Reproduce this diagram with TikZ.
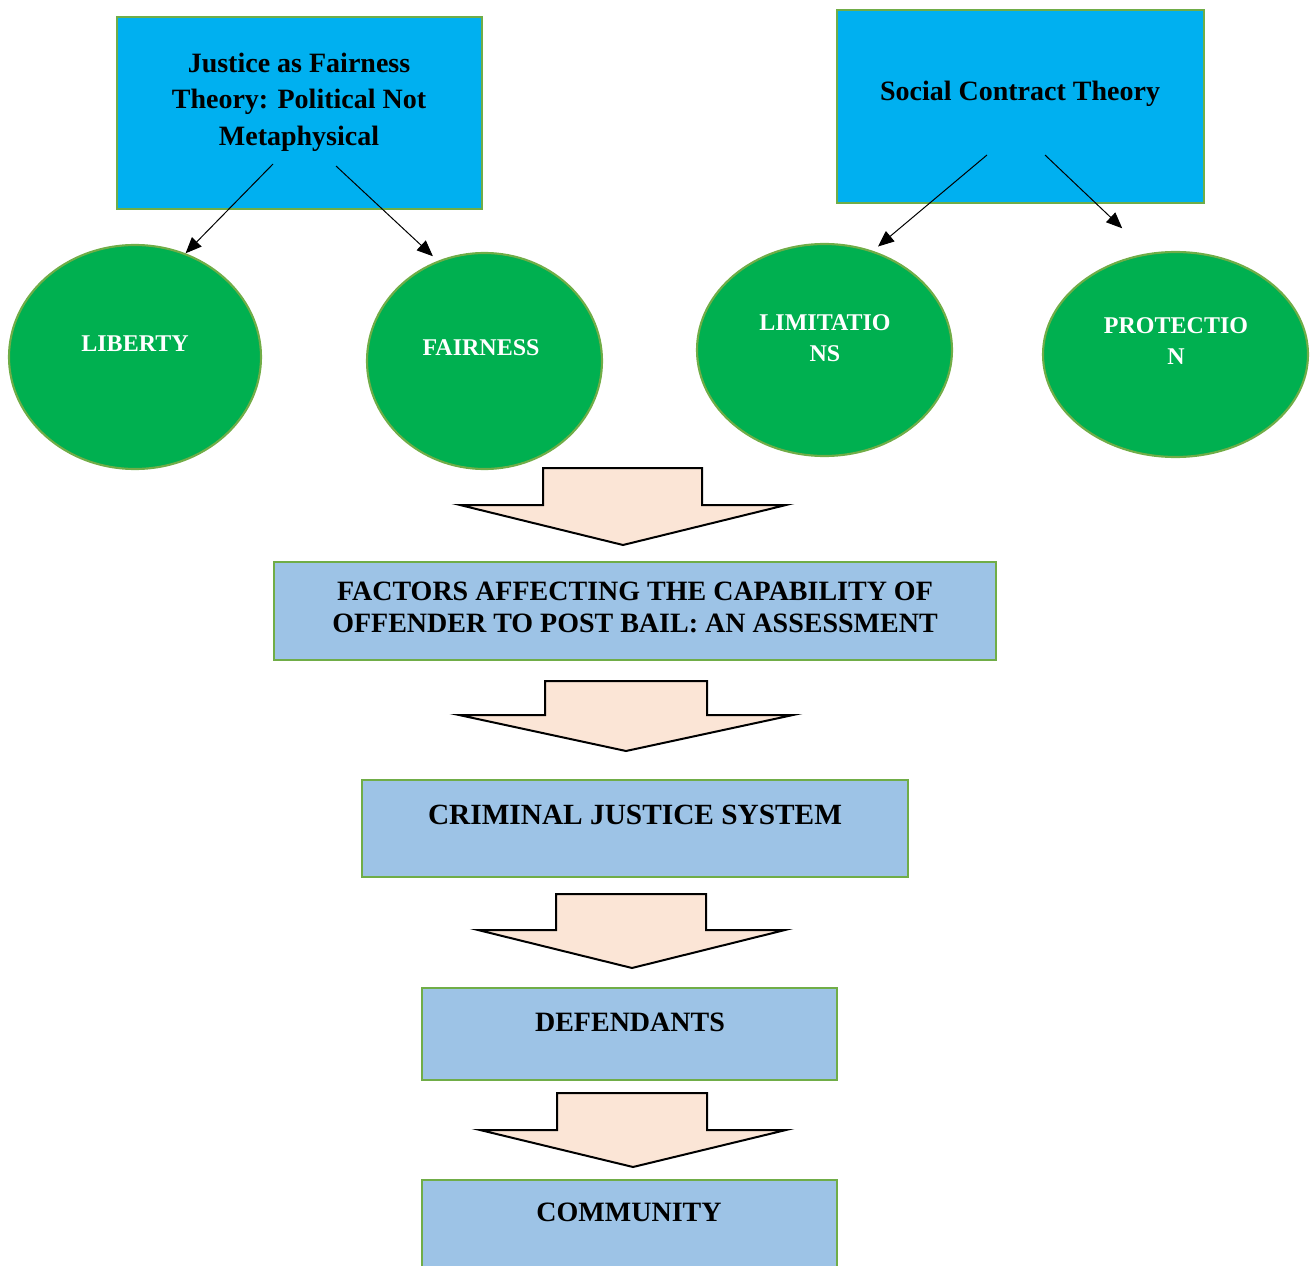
\documentclass[tikz,border=0pt]{standalone}
\usepackage{fontspec}
\setmainfont{Liberation Serif}
\usetikzlibrary{shapes.geometric,arrows.meta,calc}
\definecolor{topblue}{HTML}{00B0F0}
\definecolor{bordergreen}{HTML}{70AD47}
\definecolor{circgreen}{HTML}{00B050}
\definecolor{boxblue}{HTML}{9DC3E6}
\definecolor{peach}{HTML}{FBE5D6}
\newcommand{\blockarrow}[8]{%
  \draw[blockstyle] (#1,#3) -- (#2,#3) -- (#2,#4) -- (#6,#4) -- (#7,#8) -- (#5,#4) -- (#1,#4) -- cycle;}
\begin{document}
\begin{tikzpicture}[x=0.75pt,y=-0.75pt,
  sz/.style 2 args={minimum width=#1*0.75pt, minimum height=#2*0.75pt},
  topbox/.style={draw=bordergreen, line width=2.2pt, fill=topblue, rectangle, inner sep=0pt},
  flowbox/.style={draw=bordergreen, line width=2.2pt, fill=boxblue, rectangle, inner sep=0pt},
  circ/.style={draw=bordergreen, line width=1.6pt, fill=circgreen, ellipse, inner sep=0pt},
  ttxt/.style={font=\fontsize{21}{27.4}\selectfont\bfseries, align=center, text=black, inner sep=0pt},
  ftxt/.style={font=\fontsize{21}{24}\selectfont\bfseries, align=center, text=black, inner sep=0pt},
  ctxt/.style={font=\fontsize{18}{23.3}\selectfont\bfseries, align=center, text=white, inner sep=0pt},
  thinarrow/.style={-{Triangle[length=12pt,width=10pt]}, line width=0.75pt},
  blockstyle/.style={draw=black, line width=1.5pt, fill=peach, miter limit=25},
]
\useasboundingbox (0,0) rectangle (1314,1266);
\clip (0,0) rectangle (1314,1266);

% top boxes
\node[topbox, sz={365}{192}] (jf) at (299.5,113) {};
\node[ttxt] (jftext) at (299,102) {Justice as Fairness\\Theory: Political Not\\Metaphysical};
\node[topbox, sz={367}{193}] (sct) at (1020.5,106.5) {};
\node[ttxt] (scttext) at (1020,94) {Social Contract Theory};

% circles
\node[circ, sz={252}{224}] (lib) at (135,357) {};
\node[ctxt] (libtext) at (135,344) {LIBERTY};
\node[circ, sz={235}{216}] (fair) at (484.5,361) {};
\node[ctxt] (fairtext) at (481,348) {FAIRNESS};
\node[circ, sz={255}{212}] (lim) at (824.5,350) {};
\node[ctxt] (limtext) at (825,338) {LIMITATIO\\NS};
\node[circ, sz={265}{205}] (prot) at (1175.5,354.5) {};
\node[ctxt] (prottext) at (1176,341) {PROTECTIO\\N};

% thin arrows
\coordinate (jfL) at (273,164);
\coordinate (jfR) at (336,166);
\coordinate (sctL) at (987,155);
\coordinate (sctR) at (1045,155);
\draw[thinarrow] (jfL) -- (lib.64);
\draw[thinarrow, shorten >=5pt] (jfR) -- (fair.115);
\draw[thinarrow, shorten >=5pt] (sctL) -- (lim.64);
\draw[thinarrow, shorten >=27pt] (sctR) -- (prot.105.6);

% flow boxes
\node[flowbox, sz={722}{98}] (fac) at (635,611) {};
\node[ftxt] (factext) at (635,607) {FACTORS AFFECTING THE CAPABILITY OF\\OFFENDER TO POST BAIL: AN ASSESSMENT};
\node[flowbox, sz={546}{97}] (cjs) at (635,828.5) {};
\node[ttxt, font=\fontsize{22}{27}\selectfont\bfseries] (cjstext) at (635,815) {CRIMINAL JUSTICE SYSTEM};
\node[flowbox, sz={415}{92}] (def) at (629.5,1034) {};
\node[ttxt] (deftext) at (630,1022) {DEFENDANTS};
\node[flowbox, sz={415}{110}] (com) at (629.5,1235) {};
\node[ttxt] (comtext) at (629,1212) {COMMUNITY};

% block arrows
\blockarrow{543}{702}{468}{505}{460}{786}{623}{545}
\blockarrow{545}{707}{681}{715}{459}{793}{626}{751}
\blockarrow{556}{706}{894}{930}{478}{785}{632}{968}
\blockarrow{557}{707}{1093}{1130}{480}{786}{633}{1167}
\end{tikzpicture}
\end{document}
